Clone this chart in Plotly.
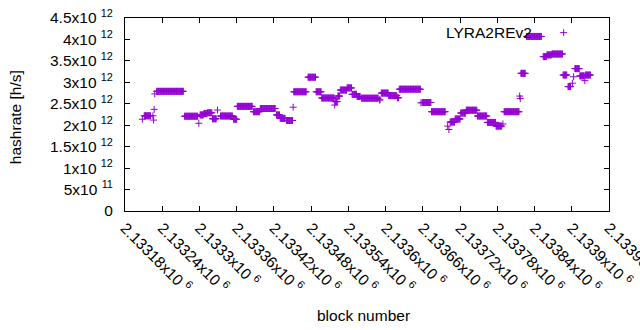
import plotly.graph_objects as go

# Runs of constant hashrate: first block, last block, hashrate [h/s]
seg_start = [2133208, 2133211, 2133225, 2133226, 2133227, 2133228, 2133231, 2133276, 2133299, 2133301,
             2133307, 2133313, 2133321, 2133329, 2133334, 2133355, 2133361, 2133387, 2133398, 2133424,
             2133430, 2133440, 2133451, 2133452, 2133475, 2133488, 2133497, 2133518, 2133519, 2133523,
             2133527, 2133538, 2133546, 2133554, 2133561, 2133590, 2133593, 2133605, 2133619, 2133622,
             2133657, 2133659, 2133674, 2133700, 2133702, 2133704, 2133712, 2133721, 2133730, 2133748,
             2133764, 2133778, 2133789, 2133791, 2133816, 2133817, 2133818, 2133827, 2133854, 2133860,
             2133868, 2133886, 2133894, 2133901, 2133903, 2133905, 2133913, 2133921, 2133922]
seg_end = [2133208, 2133221, 2133225, 2133226, 2133227, 2133228, 2133274, 2133297, 2133299, 2133306,
           2133312, 2133320, 2133327, 2133329, 2133353, 2133360, 2133385, 2133397, 2133422, 2133429,
           2133438, 2133450, 2133451, 2133472, 2133487, 2133496, 2133517, 2133518, 2133522, 2133526,
           2133537, 2133545, 2133553, 2133559, 2133588, 2133591, 2133604, 2133618, 2133621, 2133656,
           2133657, 2133673, 2133696, 2133700, 2133702, 2133711, 2133720, 2133729, 2133747, 2133763,
           2133777, 2133787, 2133789, 2133815, 2133816, 2133817, 2133825, 2133851, 2133859, 2133867,
           2133885, 2133892, 2133898, 2133901, 2133903, 2133912, 2133920, 2133921, 2133930]
seg_value = [2.14e12, 2.22e12, 2.22e12, 2.12e12, 2.37e12, 2.73e12, 2.79e12, 2.21e12, 2.045e12, 2.24e12,
             2.27e12, 2.29e12, 2.15e12, 2.355e12, 2.215e12, 2.14e12, 2.44e12, 2.315e12, 2.39e12, 2.24e12,
             2.16e12, 2.11e12, 2.42e12, 2.78e12, 3.12e12, 2.78e12, 2.635e12, 2.47e12, 2.55e12, 2.68e12,
             2.82e12, 2.87e12, 2.72e12, 2.67e12, 2.63e12, 2.59e12, 2.75e12, 2.69e12, 2.64e12, 2.84e12,
             2.52e12, 2.53e12, 2.315e12, 1.98e12, 1.90e12, 2.075e12, 2.145e12, 2.285e12, 2.35e12, 2.215e12,
             2.065e12, 1.98e12, 2.03e12, 2.315e12, 2.68e12, 2.62e12, 3.21e12, 4.07e12, 3.60e12, 3.64e12,
             3.66e12, 3.17e12, 2.90e12, 2.98e12, 3.13e12, 3.32e12, 3.15e12, 3.04e12, 3.17e12]

x_tick_vals = [2133180, 2133240, 2133300, 2133360, 2133420, 2133480, 2133540,
               2133600, 2133660, 2133720, 2133780, 2133840, 2133900, 2133960]
x_tick_text = ["2.13318x10 <sup>6</sup>", "2.13324x10 <sup>6</sup>", "2.1333x10 <sup>6</sup>",
               "2.13336x10 <sup>6</sup>", "2.13342x10 <sup>6</sup>", "2.13348x10 <sup>6</sup>",
               "2.13354x10 <sup>6</sup>", "2.1336x10 <sup>6</sup>", "2.13366x10 <sup>6</sup>",
               "2.13372x10 <sup>6</sup>", "2.13378x10 <sup>6</sup>", "2.13384x10 <sup>6</sup>",
               "2.1339x10 <sup>6</sup>", "2.13396x10 <sup>6</sup>"]
y_tick_vals = [0, 0.5e12, 1e12, 1.5e12, 2e12, 2.5e12, 3e12, 3.5e12, 4e12, 4.5e12]
y_tick_text = ["0", "5x10 <sup>11</sup>", "1x10 <sup>12</sup>", "1.5x10 <sup>12</sup>", "2x10 <sup>12</sup>",
               "2.5x10 <sup>12</sup>", "3x10 <sup>12</sup>", "3.5x10 <sup>12</sup>", "4x10 <sup>12</sup>",
               "4.5x10 <sup>12</sup>"]

series_name = "LYRA2REv2"
color = "#9400d3"

xs, ys = [], []
for s, e, v in zip(seg_start, seg_end, seg_value):
    for b in range(s, e + 1):
        xs.append(b)
        ys.append(v)

FONT = "Liberation Sans, Arial, sans-serif"
FS = 15.5

fig = go.Figure()
fig.add_trace(go.Scatter(
    x=xs, y=ys, mode="markers", name=" ",
    marker=dict(symbol="cross-thin", size=5, color=color,
                line=dict(color=color, width=1)),
    showlegend=True,
))

axis_common = dict(showline=True, linecolor="black", linewidth=1, mirror="allticks",
                   ticks="inside", ticklen=5, tickcolor="black", tickwidth=1,
                   showgrid=False, zeroline=False, automargin=False,
                   ticklabeloverflow="allow",
                   tickfont=dict(family=FONT, size=FS, color="black"))

fig.update_layout(
    width=640, height=330,
    margin=dict(l=125, r=31, t=18, b=119, autoexpand=False),
    paper_bgcolor="white", plot_bgcolor="white",
    font=dict(family=FONT, size=FS, color="black"),
    xaxis=dict(range=[2133180, 2133960], tickvals=x_tick_vals, ticktext=x_tick_text,
               tickangle=45, ticklabelstandoff=1, **axis_common),
    yaxis=dict(range=[0, 4.5e12], tickvals=y_tick_vals, ticktext=y_tick_text,
               ticklabelstandoff=8, **axis_common),
    legend=dict(x=0.865, y=1.01, xanchor="left", yanchor="top",
                bgcolor="rgba(0,0,0,0)", borderwidth=0,
                font=dict(family=FONT, size=FS, color="black")),
    annotations=[
        dict(text="hashrate [h/s]", xref="paper", yref="paper", x=-0.227, y=0.487,
             xanchor="center", yanchor="middle", textangle=-90, showarrow=False,
             font=dict(family=FONT, size=FS, color="black")),
        dict(text="block number", xref="paper", yref="paper", x=0.4933, y=-0.544,
             xanchor="center", yanchor="middle", showarrow=False,
             font=dict(family=FONT, size=FS, color="black")),
        dict(text=series_name, xref="paper", yref="paper", x=(534 - 125) / 484.5, y=(211 - 32) / 193,
             xanchor="right", yanchor="middle", showarrow=False,
             font=dict(family=FONT, size=FS, color="black")),
    ],
)

fig.write_html("out.html", config={"displayModeBar": False},
               post_script="document.body.style.margin='0';document.body.style.overflow='hidden';")
